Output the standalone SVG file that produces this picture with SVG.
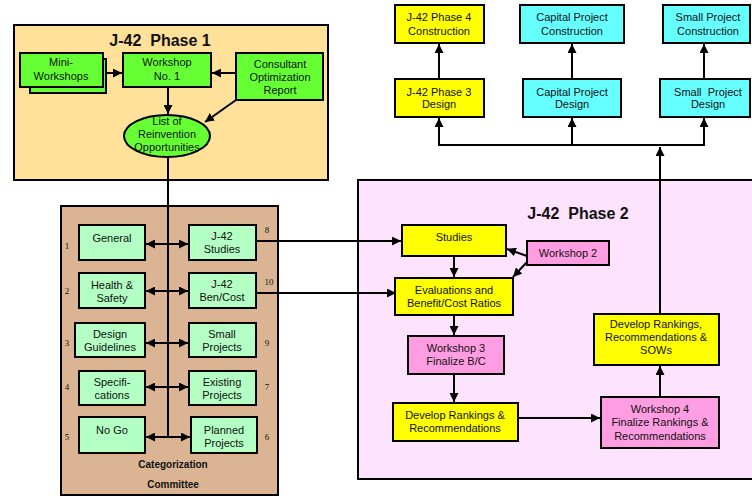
<svg xmlns="http://www.w3.org/2000/svg" width="752" height="499" viewBox="0 0 752 499">
<defs>
<style>
text{font-family:"Liberation Sans",Arial,sans-serif;font-size:11px;fill:#111;text-anchor:middle}
.t{font-size:16px;font-weight:bold;white-space:pre}
.c{font-size:10px;font-weight:bold}
.n{font-family:"Liberation Serif",serif;font-size:9px}
.b{stroke:#000;stroke-width:2}
.g{fill:#66FF33}.m{fill:#B3FFC4}.y{fill:#FFFF00}.cy{fill:#66FFFF}.p{fill:#FF9DE3}
.l{stroke:#000;stroke-width:2;fill:none}
</style>
<marker id="a" viewBox="0 0 10 10" refX="10" refY="5" markerWidth="9" markerHeight="9" markerUnits="userSpaceOnUse" orient="auto-start-reverse"><path d="M0,0L10,5L0,10z" fill="#000"/></marker>
</defs>
<rect width="752" height="499" fill="#fff"/>
<g id="phase1">
<rect x="14" y="25" width="314" height="155" fill="#FFE199" class="b"/>
<text class="t" x="160" y="46">J-42  Phase 1</text>
</g>
<g id="categorization">
<rect x="61" y="206" width="217" height="289" fill="#DBB593" class="b"/>
<text class="c" x="173" y="468">Categorization</text>
<text class="c" x="173" y="488">Committee</text>
</g>
<g id="phase2">
<rect x="358" y="180" width="400" height="299" fill="#FDE3FD" class="b"/>
<text class="t" x="578" y="219">J-42  Phase 2</text>
</g>
<g id="connectors">
<line class="l" x1="168" y1="157" x2="168" y2="438"/>
<line class="l" x1="103" y1="73" x2="122" y2="73" marker-end="url(#a)"/>
<line class="l" x1="236" y1="73" x2="212" y2="73" marker-end="url(#a)"/>
<line class="l" x1="168" y1="87" x2="168" y2="114" marker-end="url(#a)"/>
<line class="l" x1="236" y1="100" x2="205" y2="122" marker-end="url(#a)"/>
<line class="l" x1="146" y1="244" x2="188" y2="244" marker-start="url(#a)" marker-end="url(#a)"/>
<line class="l" x1="146" y1="291" x2="188" y2="291" marker-start="url(#a)" marker-end="url(#a)"/>
<line class="l" x1="146" y1="343" x2="188" y2="343" marker-start="url(#a)" marker-end="url(#a)"/>
<line class="l" x1="146" y1="387" x2="188" y2="387" marker-start="url(#a)" marker-end="url(#a)"/>
<line class="l" x1="146" y1="437" x2="190" y2="437" marker-start="url(#a)" marker-end="url(#a)"/>
<line class="l" x1="256" y1="241" x2="401" y2="241" marker-end="url(#a)"/>
<line class="l" x1="256" y1="293" x2="396" y2="293" marker-end="url(#a)"/>
<line class="l" x1="454" y1="256" x2="454" y2="277" marker-end="url(#a)"/>
<line class="l" x1="527" y1="256" x2="507" y2="249" marker-end="url(#a)"/>
<line class="l" x1="527" y1="262" x2="513" y2="277" marker-end="url(#a)"/>
<line class="l" x1="454" y1="315" x2="454" y2="335" marker-end="url(#a)"/>
<line class="l" x1="454" y1="374" x2="454" y2="402" marker-end="url(#a)"/>
<line class="l" x1="518" y1="418" x2="600" y2="418" marker-end="url(#a)"/>
<line class="l" x1="660" y1="397" x2="660" y2="366" marker-end="url(#a)"/>
<line class="l" x1="660" y1="314" x2="660" y2="147" marker-end="url(#a)"/>
<polyline class="l" points="439,118 439,145 704,145 704,118" marker-start="url(#a)" marker-end="url(#a)"/>
<line class="l" x1="572" y1="145" x2="572" y2="118" marker-end="url(#a)"/>
<line class="l" x1="439" y1="79" x2="439" y2="44" marker-end="url(#a)"/>
<line class="l" x1="572" y1="79" x2="572" y2="44" marker-end="url(#a)"/>
<line class="l" x1="704" y1="79" x2="704" y2="44" marker-end="url(#a)"/>
</g>
<g id="mini-workshops">
<rect x="30" y="59" width="76" height="34" class="b g"/>
<rect x="20" y="53" width="83" height="34" class="b g"/>
<text x="61" y="66">Mini-</text><text x="61" y="80">Workshops</text>
</g>
<g id="workshop1">
<rect x="123" y="53" width="88" height="34" class="b g"/>
<text x="167" y="66">Workshop</text><text x="167" y="80">No. 1</text>
</g>
<g id="consultant">
<rect x="236" y="53" width="87" height="47" class="b g"/>
<text x="280" y="68">Consultant</text><text x="280" y="81">Optimization</text><text x="280" y="94">Report</text>
</g>
<g id="list">
<ellipse cx="167" cy="136" rx="43" ry="21" class="b g"/>
<text x="167" y="125">List of</text><text x="167" y="138">Reinvention</text><text x="167" y="151">Opportunities</text>
</g>
<g id="general"><rect x="79" y="225" width="66" height="35" class="b m"/><text x="112" y="242">General</text><text class="n" x="67" y="249">1</text></g>
<g id="health"><rect x="79" y="273" width="66" height="35" class="b m"/><text x="112" y="289">Health &amp;</text><text x="112" y="302">Safety</text><text class="n" x="67" y="294">2</text></g>
<g id="design-guidelines"><rect x="75" y="323" width="70" height="34" class="b m"/><text x="110" y="338">Design</text><text x="110" y="351">Guidelines</text><text class="n" x="67" y="346">3</text></g>
<g id="specifications"><rect x="79" y="371" width="66" height="34" class="b m"/><text x="112" y="386">Specifi-</text><text x="112" y="399">cations</text><text class="n" x="67" y="390">4</text></g>
<g id="nogo"><rect x="79" y="417" width="66" height="36" class="b m"/><text x="112" y="434">No Go</text><text class="n" x="67" y="440">5</text></g>
<g id="j42-studies"><rect x="189" y="225" width="67" height="35" class="b m"/><text x="222" y="240">J-42</text><text x="222" y="253">Studies</text><text class="n" x="267" y="233">8</text></g>
<g id="j42-bencost"><rect x="189" y="273" width="67" height="35" class="b m"/><text x="222" y="288">J-42</text><text x="222" y="301">Ben/Cost</text><text class="n" x="269" y="285">10</text></g>
<g id="small-projects"><rect x="189" y="323" width="67" height="34" class="b m"/><text x="222" y="338">Small</text><text x="222" y="351">Projects</text><text class="n" x="267" y="346">9</text></g>
<g id="existing-projects"><rect x="189" y="371" width="67" height="34" class="b m"/><text x="222" y="386">Existing</text><text x="222" y="399">Projects</text><text class="n" x="267" y="390">7</text></g>
<g id="planned-projects"><rect x="191" y="417" width="66" height="36" class="b m"/><text x="224" y="434">Planned</text><text x="224" y="447">Projects</text><text class="n" x="267" y="440">6</text></g>
<g id="studies"><rect x="402" y="225" width="104" height="31" class="b y"/><text x="454" y="241">Studies</text></g>
<g id="workshop2"><rect x="527" y="241" width="82" height="24" class="b p"/><text x="568" y="257">Workshop 2</text></g>
<g id="evaluations"><rect x="395" y="278" width="118" height="37" class="b y"/><text x="454" y="294">Evaluations and</text><text x="454" y="307">Benefit/Cost Ratios</text></g>
<g id="workshop3"><rect x="408" y="336" width="96" height="38" class="b p"/><text x="456" y="352">Workshop 3</text><text x="456" y="365">Finalize B/C</text></g>
<g id="develop-rankings"><rect x="393" y="403" width="125" height="38" class="b y"/><text x="455" y="419">Develop Rankings &amp;</text><text x="455" y="432">Recommendations</text></g>
<g id="workshop4"><rect x="601" y="397" width="118" height="51" class="b p"/><text x="660" y="413">Workshop 4</text><text x="660" y="426">Finalize Rankings &amp;</text><text x="660" y="440">Recommendations</text></g>
<g id="develop-sows"><rect x="594" y="314" width="125" height="51" class="b y"/><text x="656" y="328">Develop Rankings,</text><text x="656" y="341">Recommendations &amp;</text><text x="656" y="354">SOWs</text></g>
<g id="phase3"><rect x="395" y="79" width="89" height="38" class="b y"/><text x="439" y="96">J-42 Phase 3</text><text x="439" y="108">Design</text></g>
<g id="phase4"><rect x="395" y="5" width="89" height="38" class="b y"/><text x="439" y="21">J-42 Phase 4</text><text x="439" y="35">Construction</text></g>
<g id="capital-design"><rect x="523" y="79" width="98" height="38" class="b cy"/><text x="572" y="96">Capital Project</text><text x="572" y="108">Design</text></g>
<g id="capital-construction"><rect x="520" y="5" width="104" height="38" class="b cy"/><text x="572" y="21">Capital Project</text><text x="572" y="35">Construction</text></g>
<g id="small-design"><rect x="660" y="79" width="90" height="38" class="b cy"/><text x="708" y="96" style="white-space:pre">Small  Project</text><text x="708" y="108">Design</text></g>
<g id="small-construction"><rect x="663" y="5" width="87" height="38" class="b cy"/><text x="708" y="21">Small Project</text><text x="708" y="35">Construction</text></g>
</svg>
